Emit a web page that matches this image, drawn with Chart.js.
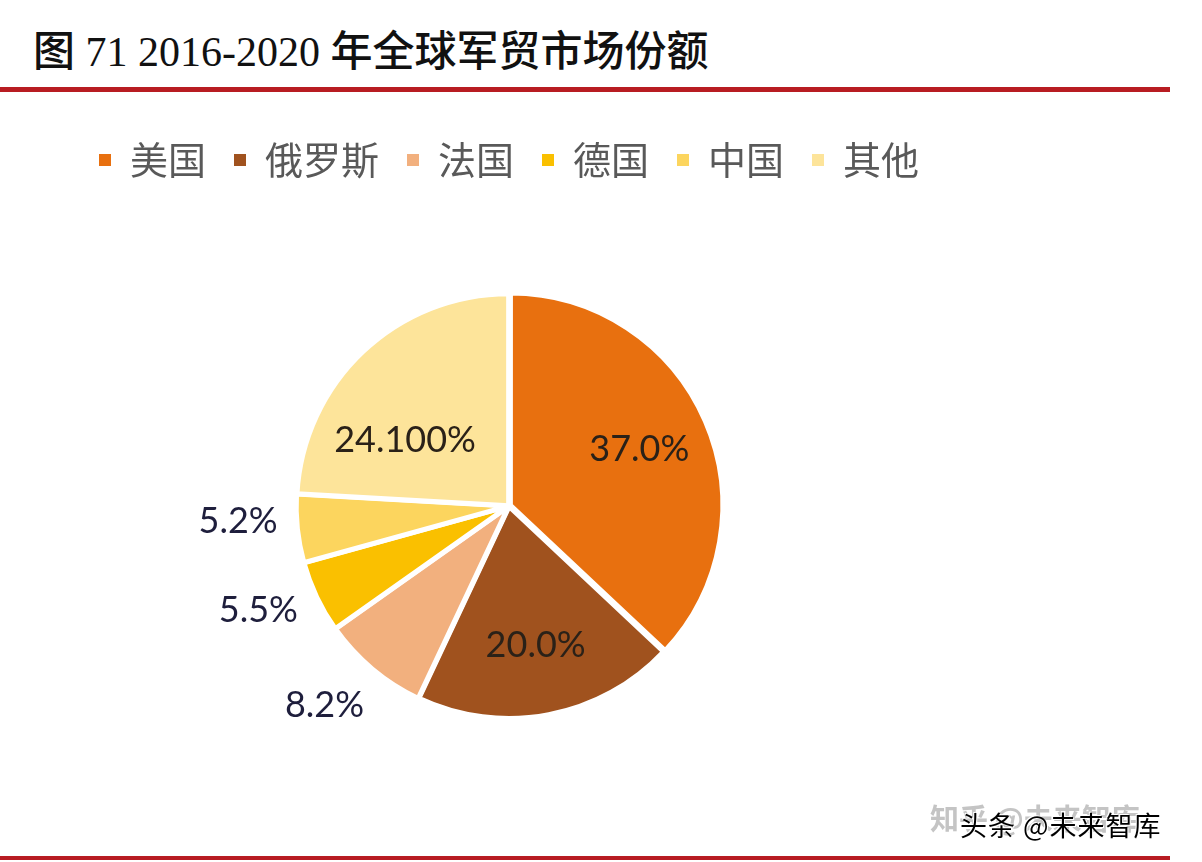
<!DOCTYPE html>
<html>
<head>
<meta charset="utf-8">
<script src="https://cdn.jsdelivr.net/npm/chart.js@4.4.1/dist/chart.umd.min.js"></script>
<style>
  html, body { margin: 0; padding: 0; background: #fff; }
  body { width: 1202px; height: 862px; position: relative; overflow: hidden; }
  #title { position: absolute; left: 33px; top: 20px; font-size: 42px; line-height: 56px; color: #111; white-space: nowrap; }
  #title .num { font-family: "Liberation Serif", serif; }
  #title .cn { font-family: "Noto Sans CJK SC", sans-serif; font-weight: 500; }
  .rule { position: absolute; left: 0; width: 1170px; background: #b81c22; }
  #wrap { position: absolute; left: 0; top: 100px; width: 1202px; height: 752px; }
  .wm1 { position: absolute; left: 930px; top: 796px; font: bold 29px "Noto Sans CJK SC", sans-serif; color: #c4c4c4; }
  .wm2 { position: absolute; left: 960px; top: 805px; font: 27px "Noto Sans CJK SC", sans-serif; color: #000; letter-spacing: 1px; text-shadow: 1px 1px 0 #fff, -1px -1px 0 #fff; }
</style>
</head>
<body>
<div id="title"><span class="cn">图</span><span class="num"> 71 2016-2020 </span><span class="cn">年全球军贸市场份额</span></div>
<div class="rule" style="top:87px;height:5px;"></div>
<div id="wrap"><canvas id="grafico"></canvas></div>
<div class="wm1">知乎 @未来智库</div>
<div class="wm2">头条 @未来智库</div>
<div class="rule" style="top:856px;height:4px;"></div>
<script>
const paises = ['美国', '俄罗斯', '法国', '德国', '中国', '其他'];
const cuotas = [37.0, 20.0, 8.2, 5.5, 5.2, 24.1];
const etiquetas = ['37.0%', '20.0%', '8.2%', '5.5%', '5.2%', '24.100%'];
const colores = ['#e8700f', '#a0521e', '#f2b07e', '#fac000', '#fcd55e', '#fde49a'];

// slices that are too small for inside labels get them outside
const fuera = [false, false, true, true, true, false];

const etiquetasPlugin = {
  id: 'etiquetas',
  afterDatasetsDraw(chart) {
    const ctx = chart.ctx;
    const arcs = chart.getDatasetMeta(0).data;
    ctx.save();
    ctx.font = '36px Lato, "Open Sans", sans-serif';
    ctx.textAlign = 'center';
    ctx.textBaseline = 'middle';
    arcs.forEach((arc, i) => {
      const p = arc.getProps(['x', 'y', 'startAngle', 'endAngle', 'outerRadius'], true);
      let mid = (p.startAngle + p.endAngle) / 2;
      let r;
      if (fuera[i]) {
        r = p.outerRadius * 1.28;
        mid += 0.05;
        ctx.fillStyle = '#1e1e3c';
      } else {
        r = p.outerRadius * 0.67;
        ctx.fillStyle = '#2a2118';
        if (i === cuotas.length - 1) { r = p.outerRadius * 0.58; mid -= 0.25; }
      }
      ctx.fillText(etiquetas[i], p.x + Math.cos(mid) * r, p.y + Math.sin(mid) * r);
    });
    ctx.restore();
  }
};

const canvas = document.getElementById('grafico');

new Chart(canvas, {
  type: 'pie',
  data: {
    labels: paises,
    datasets: [{
      data: cuotas,
      backgroundColor: colores,
      borderColor: '#ffffff',
      borderWidth: 5,
      offset: [6, 2, 2, 2, 2, 2],
      radius: 212
    }]
  },
  options: {
    responsive: true,
    maintainAspectRatio: false,
    animation: false,
    layout: { padding: { top: 13, left: 0, right: 184, bottom: 29 } },
    plugins: {
      tooltip: { enabled: false },
      legend: {
        position: 'top',
        labels: {
          boxWidth: 12,
          boxHeight: 12,
          padding: 28,
          color: '#595959',
          font: { family: '"Noto Sans CJK SC", sans-serif', size: 38, weight: 'normal' },
          generateLabels(chart) {
            const items = Chart.overrides.pie.plugins.legend.labels.generateLabels(chart);
            items.forEach(it => { it.lineWidth = 0; it.strokeStyle = it.fillStyle; });
            return items;
          }
        }
      }
    }
  },
  plugins: [etiquetasPlugin]
});
</script>
</body>
</html>
